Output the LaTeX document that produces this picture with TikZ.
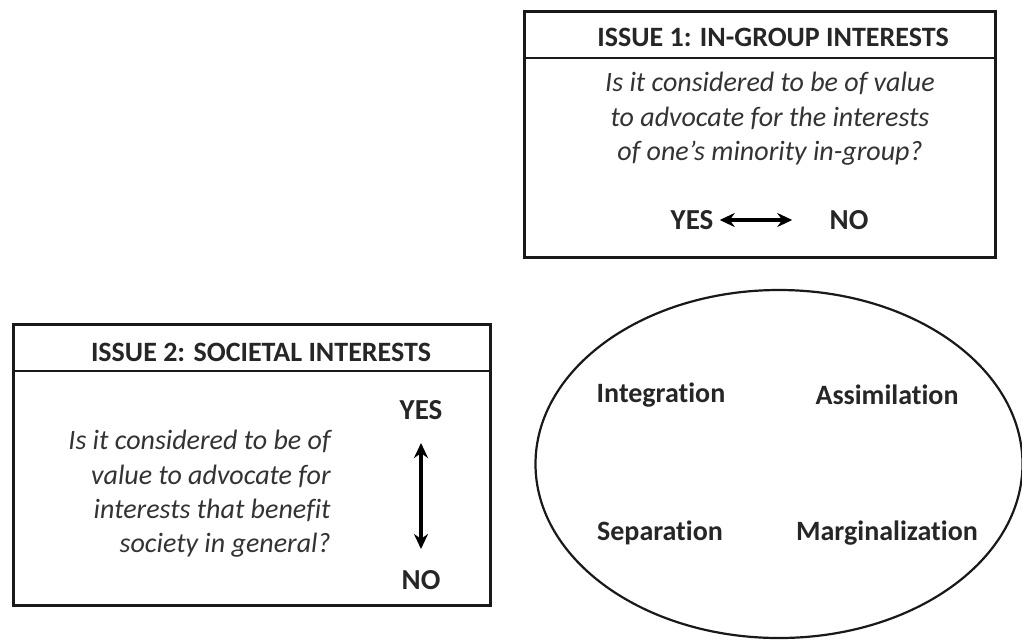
\documentclass[tikz,border=0pt]{standalone}
\usepackage{fontspec}
\setmainfont[Ligatures=NoCommon,RawFeature={-liga;-dlig;-calt}]{Carlito}
\usetikzlibrary{arrows.meta,shapes.geometric}
\begin{document}
\begin{tikzpicture}[x=0.5pt,y=-0.5pt,
  frame/.style={draw=black!90,line width=1.5pt},
  divider/.style={draw=black!90,line width=1.2pt},
  head/.style={font=\bfseries\fontsize{14}{16}\selectfont,text=black!85,inner sep=0pt},
  question/.style={font=\itshape\fontsize{14}{17.2}\selectfont,text=black!80,inner sep=0pt},
  answer/.style={font=\bfseries\fontsize{14.5}{16}\selectfont,text=black!85,inner sep=0pt},
  strategy/.style={font=\bfseries\fontsize{14}{16}\selectfont,text=black!85,inner sep=0pt},
  twoway/.style={{Stealth[length=7.5pt,width=7pt]}-{Stealth[length=7.5pt,width=7pt]},line width=1.7pt}]
\useasboundingbox[fill=white] (0,0) rectangle (1022,639);

% Issue 1 panel
\draw[frame] (524,11) rectangle (995,257);
\draw[divider] (524,58) -- (995,58);
\node[head] (h1) at (773,37) {ISSUE 1: IN-GROUP INTERESTS};
\node[question,align=center] (q1) at (770,119)
  {Is it considered to be of value\\to advocate for the interests\\of one's minority in-group?};
\node[answer] (yes1) at (692,220) {YES};
\node[answer] (no1) at (849,220) {NO};
\draw[twoway,shorten <=3pt,shorten >=18.5pt] (yes1) -- (no1);

% Issue 2 panel
\draw[frame] (13,324) rectangle (490,605);
\draw[divider] (13,371) -- (490,371);
\node[head] (h2) at (261,352) {ISSUE 2: SOCIETAL INTERESTS};
\node[question,align=right,anchor=east] (q2) at (331,494)
  {Is it considered to be of\\value to advocate for\\interests that benefit\\society in general?};
\node[answer] (yes2) at (421,410) {YES};
\node[answer] (no2) at (421,580) {NO};
\draw[twoway,shorten <=11.5pt,shorten >=10.5pt] (yes2) -- (no2);

% Acculturation strategies
\node[draw=black!90,line width=1.1pt,ellipse,minimum width=487pt*0.5,minimum height=348pt*0.5,inner sep=0pt] (acc) at (779,464) {};
\node[strategy] (int) at (661,395) {Integration};
\node[strategy] (ass) at (887,395) {Assimilation};
\node[strategy] (sep) at (660,533) {Separation};
\node[strategy] (mar) at (887,533) {Marginalization};
\end{tikzpicture}
\end{document}
